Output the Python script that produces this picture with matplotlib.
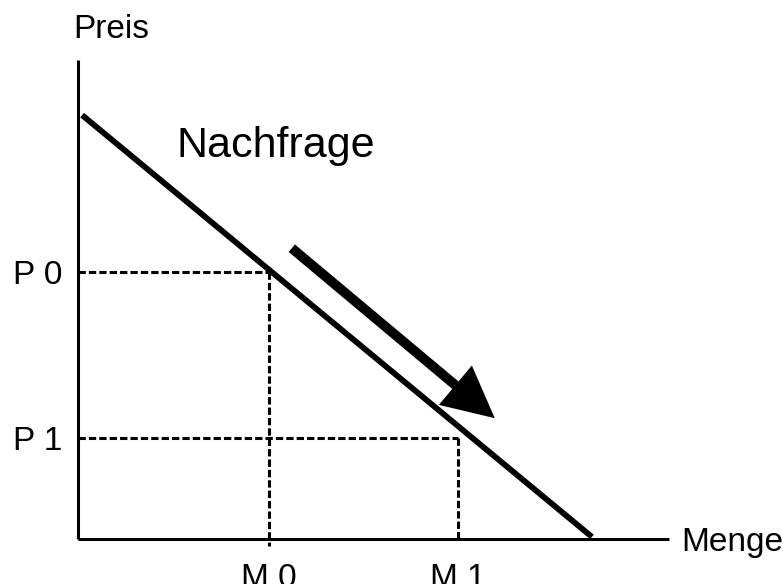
import matplotlib
matplotlib.use("Agg")
import matplotlib.pyplot as plt

# data (arbitrary units: quantity on x, price on y)
demand_q = [0.08, 10.0]
demand_p = [10.0, 0.05]
q_labels = ["M 0", "M 1"]
q_values = [3.72, 7.39]
p_labels = ["P 0", "P 1"]
p_values = [6.30, 2.38]
arrow_start = (4.16, 6.86)
arrow_end = (8.11, 2.85)
x_max = 11.5
y_max = 11.3

plt.rcParams['font.family'] = ['Liberation Sans', 'DejaVu Sans']

W, H = 783, 584
fig = plt.figure(figsize=(W / 100, H / 100), dpi=100)
ax = fig.add_axes([78 / W, (H - 539) / H, 591 / W, 479 / H])
ax.set_xlim(0, x_max)
ax.set_ylim(0, y_max)

for s in ['top', 'right']:
    ax.spines[s].set_visible(False)
for s in ['left', 'bottom']:
    ax.spines[s].set_linewidth(2.2)
    ax.spines[s].set_capstyle('butt')

# demand curve
ax.plot(demand_q, demand_p, color='black', lw=4.2, solid_capstyle='butt', clip_on=False)

# guide lines
dash = (0, (2.4, 1.0))
ax.plot([0, q_values[0]], [p_values[0], p_values[0]], color='black', lw=2.2, ls=dash, clip_on=False)
ax.plot([q_values[0], q_values[0]], [p_values[0], -0.17], color='black', lw=2.2, ls=dash, clip_on=False)
ax.plot([0, q_values[1]], [p_values[1], p_values[1]], color='black', lw=2.2, ls=dash, clip_on=False)
ax.plot([q_values[1], q_values[1]], [p_values[1], 0], color='black', lw=2.2, ls=dash, clip_on=False)

# arrow
ax.annotate('', xy=arrow_end, xytext=arrow_start,
            arrowprops=dict(arrowstyle='simple,head_length=1.0,head_width=1.0,tail_width=0.19',
                            mutation_scale=37, fc='black', ec='black', lw=0,
                            shrinkA=0, shrinkB=0))

# ticks
ax.set_xticks(q_values)
ax.set_xticklabels(q_labels, fontsize=24)
ax.set_yticks(p_values)
ax.set_yticklabels(p_labels, fontsize=24)
ax.tick_params(axis='x', length=0, pad=17)
ax.tick_params(axis='y', length=0, pad=11)

# labels
fig.text(111 / W, 1 - 38 / H, 'Preis', ha='center', va='baseline', fontsize=24)
fig.text(681 / W, 1 - 551 / H, 'Menge', ha='left', va='baseline', fontsize=24)
fig.text(177 / W, 1 - 157 / H, 'Nachfrage', ha='left', va='baseline', fontsize=31)

fig.savefig('out.png', dpi=100)
